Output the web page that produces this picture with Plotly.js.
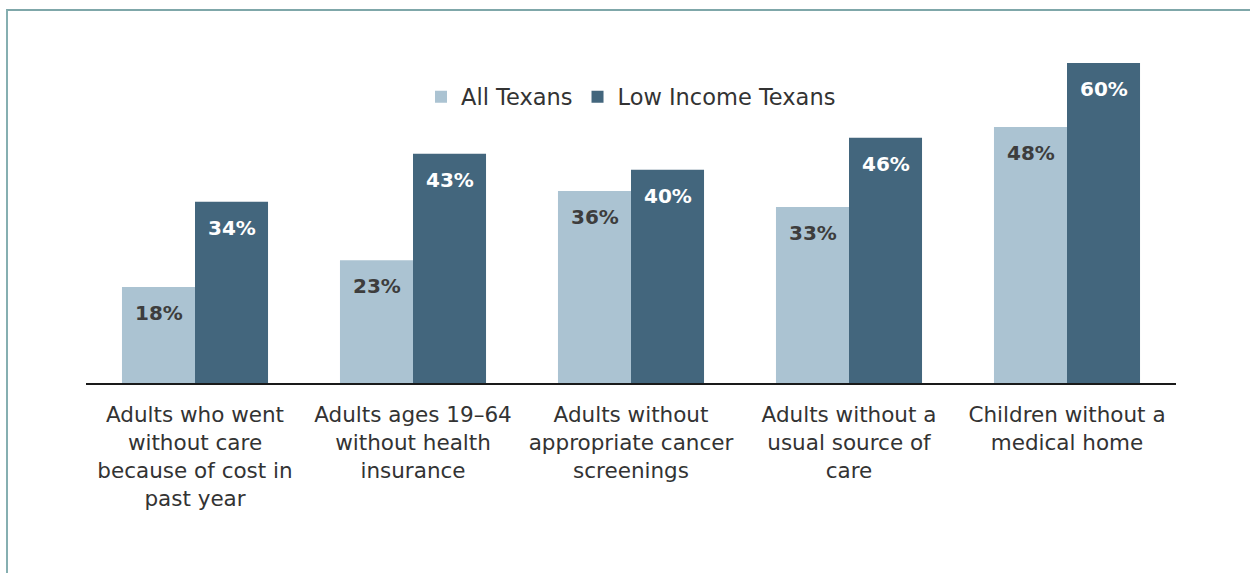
<!DOCTYPE html>
<html>
<head>
<meta charset="utf-8">
<script src="https://cdn.plot.ly/plotly-3.0.1.min.js"></script>
<style>
  html, body { margin: 0; padding: 0; background: #ffffff; }
  #wrap { position: relative; width: 1250px; height: 573px; overflow: hidden; }
  #chart { position: absolute; left: 0; top: 0; width: 1250px; height: 573px; }
  #frame { position: absolute; left: 6px; top: 9px; width: 1260px; height: 600px;
           border-top: 2px solid #7fa7a9; border-left: 2px solid #86afb1; pointer-events: none; }
</style>
</head>
<body>
<div id="wrap">
  <div id="chart"></div>
  <div id="frame"></div>
</div>
<script>
const categories = [
  "Adults who went<br>without care<br>because of cost in<br>past year",
  "Adults ages 19–64<br>without health<br>insurance",
  "Adults without<br>appropriate cancer<br>screenings",
  "Adults without a<br>usual source of<br>care",
  "Children without a<br>medical home"
];
const seriesNames = ["All Texans", "Low Income Texans"];
const allTexans = [18, 23, 36, 33, 48];
const lowIncomeTexans = [34, 43, 40, 46, 60];

const lightColor = "#abc3d2";
const darkColor = "#43667d";
const FONT = "DejaVu Sans, Verdana, sans-serif";

const traces = [
  { type: "bar", name: seriesNames[0], x: categories, y: allTexans,
    marker: { color: lightColor }, hoverinfo: "none" },
  { type: "bar", name: seriesNames[1], x: categories, y: lowIncomeTexans,
    marker: { color: darkColor }, hoverinfo: "none" }
];

const annotations = [];
categories.forEach((c, i) => {
  annotations.push({ x: c, y: allTexans[i], xref: "x", yref: "y", text: allTexans[i] + "%",
    showarrow: false, yanchor: "top", yshift: -12, xshift: -36.5,
    font: { family: FONT, size: 20, color: "#3d3d3d", weight: "bold" } });
  annotations.push({ x: c, y: lowIncomeTexans[i], xref: "x", yref: "y", text: lowIncomeTexans[i] + "%",
    showarrow: false, yanchor: "top", yshift: -12, xshift: 36.5,
    font: { family: FONT, size: 20, color: "#ffffff", weight: "bold" } });
});

const layout = {
  width: 1250, height: 573,
  margin: { l: 86, r: 74, t: 36, b: 190 },
  paper_bgcolor: "rgba(0,0,0,0)", plot_bgcolor: "rgba(0,0,0,0)",
  barmode: "group", bargap: 0.33, bargroupgap: 0,
  font: { family: FONT, size: 21, color: "#333333" },
  showlegend: true,
  legend: { orientation: "h", x: 0.5, xanchor: "center", y: 0.824, yanchor: "middle",
            font: { family: FONT, size: 22.5, color: "#333333" }, itemwidth: 30,
            bgcolor: "rgba(0,0,0,0)" },
  xaxis: { type: "category", range: [-0.5, 4.5], showline: true, linecolor: "#1a1a1a", linewidth: 2,
           ticks: "", ticklabelstandoff: 11, showgrid: false, zeroline: false, fixedrange: true,
           tickfont: { family: FONT, size: 21.5, color: "#333333" } },
  yaxis: { range: [0, 65.06], visible: false, showgrid: false, zeroline: false, fixedrange: true },
  annotations: annotations
};

Plotly.newPlot("chart", traces, layout, { displayModeBar: false, staticPlot: true });
</script>
</body>
</html>
